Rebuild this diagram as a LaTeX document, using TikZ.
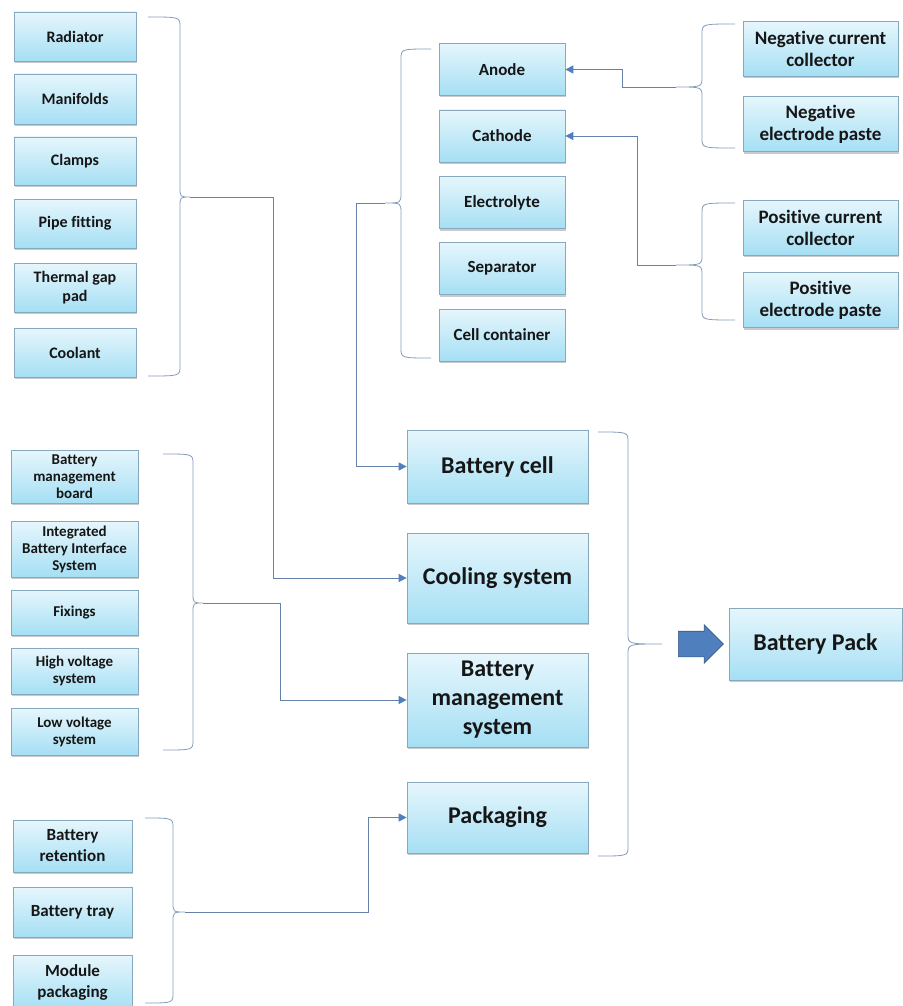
\documentclass[tikz,border=0pt]{standalone}
\usepackage{fontspec}
\setmainfont{Carlito}[Ligatures=NoCommon]
\usepackage{tikz}
\usetikzlibrary{arrows.meta,shadows,shapes.arrows,positioning}

\definecolor{boxtop}{HTML}{E6F6FC}
\definecolor{boxbot}{HTML}{A5DFF4}
\definecolor{boxline}{HTML}{86A9C0}
\definecolor{linkcol}{HTML}{6482AA}
\definecolor{tipcol}{HTML}{4F7FBD}
\definecolor{txtcol}{HTML}{161616}

% curly bracket: end x, spine x, tip x, top y, tip y, bottom y, tip name
\newcommand{\curlybr}[7]{%
  \draw[brline] (#1,#4) .. controls (#2,#4) .. (#2,#4+10) -- (#2,#5-10)
     .. controls (#2,#5) .. (#3,#5) .. controls (#2,#5) .. (#2,#5+10)
     -- (#2,#6-10) .. controls (#2,#6) .. (#1,#6);
  \coordinate (#7) at (#3,#5);}

\begin{document}
\begin{tikzpicture}[x=1pt,y=-1pt,
    part/.style={rectangle,draw=boxline,line width=0.7pt,top color=boxtop,bottom color=boxbot,
      align=center,text=txtcol,inner sep=1pt,
      drop shadow={shadow xshift=0.5pt,shadow yshift=-2pt,opacity=0.35,fill=black!60},
      font=\fontsize{16}{18.5}\selectfont\bfseries},
    bigpart/.style={part,font=\fontsize{24}{29}\selectfont\bfseries},
    brline/.style={draw=linkcol!80,line width=0.8pt},
    link/.style={draw=linkcol,line width=0.8pt},
    linkarr/.style={link,-{Triangle[length=8pt,width=8pt,color=tipcol]}}]
  \useasboundingbox (0,0) rectangle (902,1006);

  % cooling parts
  \foreach \nm/\txt/\yy/\hh in {rad/Radiator/36.5/49, man/Manifolds/99/50, clamp/Clamps/161/48,
      pipe/Pipe fitting/223.5/49, gap/{Thermal gap\\pad}/287.5/49, coolant/Coolant/352.5/49}
    \node[part,minimum width=122pt,minimum height=\hh pt] (\nm) at (75,\yy) {\txt};

  % bms parts
  \tikzset{bmsfont/.style={font=\fontsize{15}{17}\selectfont\bfseries}}
  \node[part,bmsfont,minimum width=127pt,minimum height=53pt] (board) at (74.5,476.5) {Battery\\management\\board};
  \node[part,bmsfont,minimum width=127pt,minimum height=56pt] (ibis) at (74.5,549) {Integrated\\Battery Interface\\System};
  \node[part,bmsfont,minimum width=127pt,minimum height=45pt] (fix) at (74.5,612.5) {Fixings};
  \node[part,bmsfont,minimum width=127pt,minimum height=46pt] (hv) at (74.5,671) {High voltage\\system};
  \node[part,bmsfont,minimum width=127pt,minimum height=47pt] (lv) at (74.5,731.5) {Low voltage\\system};

  % packaging parts
  \tikzset{packfont/.style={font=\fontsize{17}{21}\selectfont\bfseries}}
  \node[part,packfont,minimum width=119pt,minimum height=52pt] (ret) at (72.5,846) {Battery\\retention};
  \node[part,packfont,minimum width=119pt,minimum height=50pt] (tray) at (72.5,912) {Battery tray};
  \node[part,packfont,minimum width=119pt,minimum height=55pt] (modpack) at (72.5,982.5) {Module\\packaging};

  % cell parts
  \foreach \nm/\txt/\yy in {anode/Anode/69.5, cathode/Cathode/136, elyte/Electrolyte/202.5,
      sep/Separator/268.5, contain/Cell container/335}
    \node[part,font=\fontsize{17}{20}\selectfont\bfseries,minimum width=126pt,minimum height=52pt]
      (\nm) at (502,\yy) {\txt};

  % electrode parts
  \tikzset{elfont/.style={font=\fontsize{19}{22}\selectfont\bfseries}}
  \node[part,elfont,minimum width=155pt,minimum height=55pt] (negcc) at (820.5,49) {Negative current\\collector};
  \node[part,elfont,minimum width=155pt,minimum height=55pt] (negep) at (820.5,124) {Negative\\electrode paste};
  \node[part,elfont,minimum width=155pt,minimum height=55pt] (poscc) at (820.5,227.5) {Positive current\\collector};
  \node[part,elfont,minimum width=155pt,minimum height=55pt] (posep) at (820.5,300) {Positive\\electrode paste};

  % subsystems
  \node[bigpart,minimum width=181pt,minimum height=73pt] (cell) at (497.5,466.5) {Battery cell};
  \node[bigpart,minimum width=181pt,minimum height=90pt] (cool) at (497.5,578) {Cooling system};
  \node[bigpart,minimum width=181pt,minimum height=94pt] (bms) at (497.5,700) {Battery\\management\\system};
  \node[bigpart,minimum width=181pt,minimum height=71pt] (packg) at (497.5,817.5) {Packaging};
  \node[bigpart,minimum width=173pt,minimum height=72pt] (pack) at (815.5,644) {Battery Pack};

  % brackets
  \curlybr{148}{180}{190}{17}{197}{376}{coolTip}
  \curlybr{431}{401}{385}{49}{203}{358}{cellTip}
  \curlybr{735}{702}{676}{24}{87}{148}{negTip}
  \curlybr{735}{702}{676}{203}{265}{320}{posTip}
  \curlybr{163}{193}{203}{454}{603}{750}{bmsTip}
  \curlybr{145}{173}{185}{818}{912}{1003}{packTip}
  \curlybr{598}{628}{662}{432}{644}{856}{sysTip}

  % links
  \draw[linkarr] (coolTip) -- (273,197) |- (cool.west);
  \draw[linkarr] (cellTip) -- (356,203) |- (cell.west);
  \draw[linkarr] (negTip) -- (622,87) |- (anode.east);
  \draw[linkarr] (posTip) -- (637,265) |- (cathode.east);
  \draw[linkarr] (bmsTip) -- (280,603) |- (bms.west);
  \draw[linkarr] (packTip) -- (368,912) |- (packg.west);

  \node[single arrow,fill=tipcol,draw=tipcol!70!black,line width=0.6pt,inner sep=0pt,
    minimum height=45pt,minimum width=38pt,single arrow head extend=6.5pt,
    inner ysep=12.5pt] (bigArrow) at (694.5,644) {};
\end{tikzpicture}
\end{document}
